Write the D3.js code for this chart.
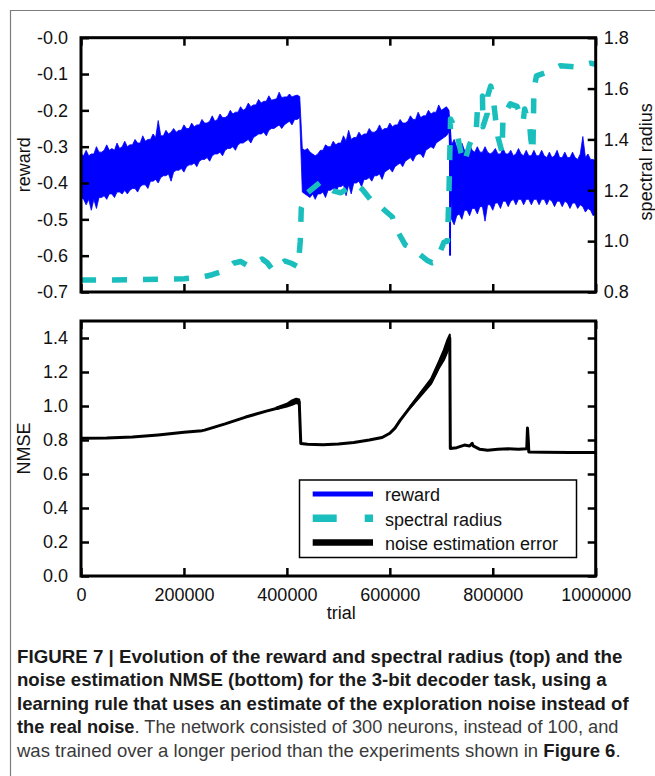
<!DOCTYPE html>
<html>
<head>
<meta charset="utf-8">
<script src="https://cdn.jsdelivr.net/npm/d3@7"></script>
<style>
  body { margin: 0; background: #fff; }
  svg { display: block; }
  text { font-family: "Liberation Sans", Arial, Helvetica, sans-serif; }
</style>
</head>
<body>
<svg id="fig" width="655" height="776"></svg>
<script>
// ---------- data ----------
// reward: envelope of the noisy trace, sampled every 5000 trials
const rewardStep = 5000;
const rewardHigh = [
  // 0 - 425000
  -0.32,-0.325,-0.31,-0.325,-0.32,-0.32,-0.30,-0.315,-0.315,-0.31,
  -0.295,-0.31,-0.305,-0.31,-0.29,-0.305,-0.30,-0.285,-0.30,-0.295,
  -0.295,-0.28,-0.29,-0.29,-0.27,-0.285,-0.28,-0.28,-0.265,-0.275,
  -0.228,-0.27,-0.27,-0.255,-0.265,-0.26,-0.25,-0.26,-0.255,-0.255,
  -0.24,-0.25,-0.25,-0.235,-0.245,-0.24,-0.24,-0.225,-0.235,-0.235,
  -0.23,-0.215,-0.23,-0.225,-0.21,-0.22,-0.22,-0.215,-0.20,-0.21,
  -0.205,-0.205,-0.19,-0.20,-0.195,-0.18,-0.19,-0.185,-0.185,-0.17,
  -0.18,-0.175,-0.175,-0.16,-0.172,-0.17,-0.168,-0.15,-0.165,-0.163,
  -0.163,-0.155,-0.163,-0.16,-0.158,-0.162,
  // 430000 - 715000
  -0.305,-0.31,-0.305,-0.315,-0.32,-0.325,-0.32,-0.31,-0.31,-0.295,
  -0.30,-0.30,-0.285,-0.295,-0.29,-0.29,-0.27,-0.285,-0.255,-0.28,
  -0.275,-0.275,-0.26,-0.27,-0.265,-0.265,-0.25,-0.26,-0.26,-0.255,
  -0.24,-0.255,-0.25,-0.25,-0.235,-0.245,-0.24,-0.24,-0.225,-0.235,
  -0.235,-0.23,-0.215,-0.225,-0.225,-0.205,-0.22,-0.215,-0.215,-0.20,
  -0.21,-0.205,-0.205,-0.185,-0.20,-0.195,-0.19,-0.20,
  // 720000 - 1000000
  -0.295,-0.28,-0.30,-0.305,-0.29,-0.31,-0.31,-0.295,-0.31,-0.315,
  -0.30,-0.315,-0.315,-0.30,-0.315,-0.32,-0.315,-0.305,-0.32,-0.32,
  -0.305,-0.32,-0.32,-0.31,-0.325,-0.32,-0.305,-0.32,-0.325,-0.31,
  -0.325,-0.325,-0.31,-0.325,-0.325,-0.31,-0.325,-0.33,-0.315,-0.33,
  -0.325,-0.31,-0.33,-0.33,-0.315,-0.33,-0.33,-0.315,-0.33,-0.335,
  -0.32,-0.272,-0.33,-0.32,-0.335,-0.335,-0.34
];
const rewardLow = [
  // 0 - 425000
  -0.44,-0.445,-0.46,-0.445,-0.475,-0.445,-0.47,-0.44,-0.44,-0.435,
  -0.445,-0.43,-0.43,-0.44,-0.425,-0.425,-0.43,-0.42,-0.43,-0.42,
  -0.415,-0.415,-0.425,-0.41,-0.405,-0.405,-0.415,-0.395,-0.395,-0.39,
  -0.40,-0.385,-0.38,-0.38,-0.375,-0.395,-0.37,-0.365,-0.365,-0.36,
  -0.37,-0.355,-0.35,-0.35,-0.345,-0.355,-0.34,-0.335,-0.335,-0.33,
  -0.34,-0.325,-0.32,-0.32,-0.315,-0.325,-0.31,-0.305,-0.305,-0.30,
  -0.31,-0.295,-0.29,-0.29,-0.285,-0.28,-0.29,-0.275,-0.27,-0.265,
  -0.265,-0.26,-0.27,-0.255,-0.25,-0.25,-0.245,-0.24,-0.25,-0.24,
  -0.235,-0.23,-0.24,-0.225,-0.225,-0.22,
  // 430000 - 715000
  -0.425,-0.43,-0.435,-0.44,-0.43,-0.445,-0.43,-0.43,-0.425,-0.44,
  -0.42,-0.42,-0.415,-0.425,-0.41,-0.41,-0.405,-0.435,-0.405,-0.43,
  -0.40,-0.40,-0.395,-0.41,-0.39,-0.39,-0.385,-0.395,-0.38,-0.38,
  -0.375,-0.39,-0.37,-0.365,-0.36,-0.37,-0.355,-0.35,-0.345,-0.355,
  -0.34,-0.335,-0.33,-0.34,-0.325,-0.32,-0.32,-0.33,-0.31,-0.305,
  -0.30,-0.305,-0.29,-0.285,-0.28,-0.275,-0.27,-0.26,
  // 720000 - 1000000
  -0.50,-0.515,-0.49,-0.485,-0.50,-0.475,-0.475,-0.49,-0.47,-0.47,
  -0.485,-0.465,-0.465,-0.505,-0.46,-0.46,-0.475,-0.455,-0.455,-0.47,
  -0.45,-0.45,-0.465,-0.45,-0.445,-0.46,-0.445,-0.445,-0.46,-0.445,
  -0.445,-0.46,-0.445,-0.445,-0.46,-0.445,-0.445,-0.46,-0.445,-0.45,
  -0.465,-0.45,-0.45,-0.465,-0.45,-0.455,-0.47,-0.455,-0.455,-0.47,
  -0.46,-0.465,-0.48,-0.47,-0.475,-0.49,-0.485
];
// isolated downward spike of the reward at the second reset
const rewardSpikeTrial = [717000];
const rewardSpikeLow = [-0.60];
const rewardSpikeHigh = [-0.25];

// spectral radius (right axis)
const radiusTrials = [
  0, 100000, 200000, 235000, 255000, 275000, 296000, 310000, 325000, 340000,
  352000, 362000, 373000, 385000, 396000, 410000, 422000, 426000, 428000, 440000,
  465000, 490000, 505000, 520000, 535000, 546000, 568000, 585000, 605000, 612000,
  630000, 645000, 672000, 682000, 690000, 705000, 712000, 715000, 718000, 730000,
  738000, 745000, 755000, 768000, 770000, 780000, 781000, 789000, 790000, 796000,
  800000, 806000, 810000, 818000, 820000, 834000, 847000, 859000, 862000, 872000,
  874000, 878000, 880000, 885000, 906000, 931000, 960000, 990000, 1000000
];
const radiusValues = [
  0.847, 0.848, 0.852, 0.858, 0.868, 0.882, 0.913, 0.92, 0.902, 0.915,
  0.93, 0.915, 0.885, 0.905, 0.922, 0.912, 0.898, 1.0, 1.13, 1.19,
  1.232, 1.198, 1.19, 1.21, 1.222, 1.205, 1.15, 1.13, 1.095, 1.05,
  0.985, 0.97, 0.925, 0.915, 0.92, 0.995, 1.0, 1.2, 1.48, 1.43,
  1.35, 1.31, 1.38, 1.44, 1.51, 1.57, 1.45, 1.50, 1.57, 1.61,
  1.58, 1.47, 1.41, 1.35, 1.49, 1.54, 1.53, 1.47, 1.52, 1.45,
  1.40, 1.35, 1.60, 1.65, 1.665, 1.69, 1.685, 1.70, 1.695
];

// noise estimation NMSE (bottom panel)
const nmseTrials = [
  0, 50000, 100000, 150000, 200000, 235000, 240000, 280000, 320000, 360000,
  385000, 400000, 410000, 418000, 424000, 427000, 440000, 470000, 500000, 530000,
  560000, 585000, 600000, 610000, 620000, 640000, 660000, 680000, 690000, 700000,
  710000, 715000, 716500, 717500, 730000, 745000, 755000, 760000, 762000, 775000,
  790000, 810000, 830000, 850000, 866000, 867500, 869000, 870000, 900000, 950000,
  1000000
];
const nmseValues = [
  0.81, 0.812, 0.818, 0.83, 0.845, 0.855, 0.858, 0.895, 0.935, 0.97,
  0.99, 1.005, 1.02, 1.03, 1.025, 0.78, 0.775, 0.772, 0.777, 0.785,
  0.80, 0.815, 0.84, 0.87, 0.915, 0.995, 1.07, 1.14, 1.20, 1.28,
  1.34, 1.39, 1.40, 0.75, 0.755, 0.77, 0.765, 0.78, 0.765, 0.745,
  0.74, 0.745, 0.748, 0.745, 0.748, 0.87, 0.80, 0.73, 0.728, 0.727,
  0.726
];
// spread of the NMSE trace where it gets noisy
const nmseBand1Trials = [380000, 400000, 410000, 418000, 424000];
const nmseBand1Low    = [0.982, 0.997, 1.007, 1.017, 1.012];
const nmseBand1High   = [0.992, 1.013, 1.033, 1.043, 1.038];
const nmseBand2Trials = [640000, 660000, 680000, 695000, 705000, 712000, 716500];
const nmseBand2Low    = [0.99, 1.06, 1.13, 1.22, 1.27, 1.32, 1.35];
const nmseBand2High   = [1.00, 1.08, 1.16, 1.26, 1.33, 1.39, 1.42];

// ticks
const trialTicks = [0, 200000, 400000, 600000, 800000, 1000000];
const trialLabels = ["0", "200000", "400000", "600000", "800000", "1000000"];
const rewardTicks = [-0.7, -0.6, -0.5, -0.4, -0.3, -0.2, -0.1, 0];
const rewardLabels = ["-0.7", "-0.6", "-0.5", "-0.4", "-0.3", "-0.2", "-0.1", "-0.0"];
const radiusTicks = [0.8, 1.0, 1.2, 1.4, 1.6, 1.8];
const radiusLabels = ["0.8", "1.0", "1.2", "1.4", "1.6", "1.8"];
const nmseTicks = [0, 0.2, 0.4, 0.6, 0.8, 1.0, 1.2, 1.4];
const nmseLabels = ["0.0", "0.2", "0.4", "0.6", "0.8", "1.0", "1.2", "1.4"];

const legendLabels = ["reward", "spectral radius", "noise estimation error"];

const captionLines = [
  [["FIGURE 7 | Evolution of the reward and spectral radius (top) and the", true]],
  [["noise estimation NMSE (bottom) for the 3-bit decoder task, using a", true]],
  [["learning rule that uses an estimate of the exploration noise instead of", true]],
  [["the real noise", true], [". The network consisted of 300 neurons, instead of 100, and", false]],
  [["was trained over a longer period than the experiments shown in ", false], ["Figure 6", true], [".", false]]
];

// ---------- layout ----------
const FONT = '"Liberation Sans", Arial, Helvetica, sans-serif';
const plotL = 81, plotR = 595.7;
const topPanel = { y0: 37.7, y1: 292 };
const botPanel = { y0: 321, y1: 576 };
const blue = "#0000ff", cyan = "#1abfbd";

const svg = d3.select("#fig");

// page frame (top and left rules)
svg.append("path")
  .attr("d", "M10.5,776 V10.5 H655")
  .attr("fill", "none").attr("stroke", "#7d7d7d").attr("stroke-width", 1.2);

const x = d3.scaleLinear().domain([0, 1000000]).range([plotL, plotR]);
const yReward = d3.scaleLinear().domain([-0.7, 0]).range([topPanel.y1, topPanel.y0]);
const yRadius = d3.scaleLinear().domain([0.8, 1.8]).range([topPanel.y1, topPanel.y0]);
const yNmse = d3.scaleLinear().domain([0, 1.5]).range([botPanel.y1, botPanel.y0]);

function styleAxis(g) {
  g.attr("font-size", 18).attr("font-family", FONT);
  g.select(".domain").remove();
  g.selectAll(".tick line").attr("stroke", "#000").attr("stroke-width", 2.5);
  g.selectAll(".tick text").attr("fill", "#111");
}

// ---------- top panel ----------
const topG = svg.append("g");

const rewardData = rewardHigh.map((h, i) => ({ t: i * rewardStep, hi: h, lo: rewardLow[i] }));
topG.append("path")
  .datum(rewardData)
  .attr("fill", blue)
  .attr("stroke", blue).attr("stroke-width", 0.8)
  .attr("d", d3.area().x(d => x(d.t)).y0(d => yReward(d.lo)).y1(d => yReward(d.hi)));

topG.selectAll("line.spike")
  .data(rewardSpikeTrial.map((t, i) => ({ t, lo: rewardSpikeLow[i], hi: rewardSpikeHigh[i] })))
  .join("line").attr("class", "spike")
  .attr("x1", d => x(d.t)).attr("x2", d => x(d.t))
  .attr("y1", d => yReward(d.lo)).attr("y2", d => yReward(d.hi))
  .attr("stroke", blue).attr("stroke-width", 2);

const radiusData = radiusTrials.map((t, i) => ({ t, v: radiusValues[i] }));
topG.append("path")
  .datum(radiusData)
  .attr("fill", "none")
  .attr("stroke", cyan).attr("stroke-width", 5.5)
  .attr("stroke-dasharray", "15,16")
  .attr("stroke-linejoin", "round")
  .attr("d", d3.line().x(d => x(d.t)).y(d => yRadius(d.v)));

topG.append("g").attr("transform", `translate(${plotL},0)`)
  .call(d3.axisLeft(yReward).tickValues(rewardTicks)
    .tickFormat((d, i) => rewardLabels[i]).tickSize(-8).tickPadding(13))
  .call(styleAxis);
topG.append("g").attr("transform", `translate(${plotR},0)`)
  .call(d3.axisRight(yRadius).tickValues(radiusTicks)
    .tickFormat((d, i) => radiusLabels[i]).tickSize(-8).tickPadding(8))
  .call(styleAxis);
topG.append("g").attr("transform", `translate(0,${topPanel.y1})`)
  .call(d3.axisBottom(x).tickValues(trialTicks).tickFormat("").tickSize(-8))
  .call(styleAxis);
topG.append("g").attr("transform", `translate(0,${topPanel.y0})`)
  .call(d3.axisTop(x).tickValues(trialTicks).tickFormat("").tickSize(-8))
  .call(styleAxis);

topG.append("rect")
  .attr("x", plotL).attr("y", topPanel.y0)
  .attr("width", plotR - plotL).attr("height", topPanel.y1 - topPanel.y0)
  .attr("fill", "none").attr("stroke", "#000").attr("stroke-width", 3);

topG.append("text")
  .attr("transform", `translate(30,${(topPanel.y0 + topPanel.y1) / 2}) rotate(-90)`)
  .attr("text-anchor", "middle").attr("font-size", 18).attr("fill", "#111")
  .text("reward");
topG.append("text")
  .attr("transform", `translate(652,${(topPanel.y0 + topPanel.y1) / 2 - 3}) rotate(-90)`)
  .attr("text-anchor", "middle").attr("font-size", 18).attr("fill", "#111")
  .text("spectral radius");

// ---------- bottom panel ----------
const botG = svg.append("g");

const bandArea = d3.area().x(d => x(d.t)).y0(d => yNmse(d.lo)).y1(d => yNmse(d.hi));
[[nmseBand1Trials, nmseBand1Low, nmseBand1High], [nmseBand2Trials, nmseBand2Low, nmseBand2High]]
  .forEach(([ts, lo, hi]) => {
    botG.append("path")
      .datum(ts.map((t, i) => ({ t, lo: lo[i], hi: hi[i] })))
      .attr("fill", "#000").attr("stroke", "#000").attr("stroke-width", 2)
      .attr("stroke-linejoin", "round")
      .attr("d", bandArea);
  });

const nmseData = nmseTrials.map((t, i) => ({ t, v: nmseValues[i] }));
botG.append("path")
  .datum(nmseData)
  .attr("fill", "none").attr("stroke", "#000").attr("stroke-width", 3)
  .attr("stroke-linejoin", "round")
  .attr("d", d3.line().x(d => x(d.t)).y(d => yNmse(d.v)));

botG.append("g").attr("transform", `translate(${plotL},0)`)
  .call(d3.axisLeft(yNmse).tickValues(nmseTicks)
    .tickFormat((d, i) => nmseLabels[i]).tickSize(-8).tickPadding(13))
  .call(styleAxis);
botG.append("g").attr("transform", `translate(${plotR},0)`)
  .call(d3.axisRight(yNmse).tickValues(nmseTicks).tickFormat("").tickSize(-8))
  .call(styleAxis);
botG.append("g").attr("transform", `translate(0,${botPanel.y1})`)
  .call(d3.axisBottom(x).tickValues(trialTicks)
    .tickFormat((d, i) => trialLabels[i]).tickSize(-8).tickPadding(12.5))
  .call(styleAxis);
botG.append("g").attr("transform", `translate(0,${botPanel.y0})`)
  .call(d3.axisTop(x).tickValues(trialTicks).tickFormat("").tickSize(-8))
  .call(styleAxis);

// legend
const legend = botG.append("g");
legend.append("rect")
  .attr("x", 299.5).attr("y", 480).attr("width", 277).attr("height", 77.5)
  .attr("fill", "#fff").attr("stroke", "#000").attr("stroke-width", 1.5);
const legendStyles = [
  { color: blue, width: 5, dash: null },
  { color: cyan, width: 7.5, dash: "24,28" },
  { color: "#000", width: 6.5, dash: null }
];
const legendRows = [494, 518.3, 542.6];
legendLabels.forEach((lab, i) => {
  const s = legendStyles[i];
  legend.append("line")
    .attr("x1", 312.7).attr("x2", 373).attr("y1", legendRows[i]).attr("y2", legendRows[i])
    .attr("stroke", s.color).attr("stroke-width", s.width)
    .attr("stroke-dasharray", s.dash);
  legend.append("text")
    .attr("x", 385).attr("y", legendRows[i] + 7.3)
    .attr("font-size", 18).attr("fill", "#111")
    .text(lab);
});

botG.append("rect")
  .attr("x", plotL).attr("y", botPanel.y0)
  .attr("width", plotR - plotL).attr("height", botPanel.y1 - botPanel.y0)
  .attr("fill", "none").attr("stroke", "#000").attr("stroke-width", 3);

botG.append("text")
  .attr("transform", `translate(30,${(botPanel.y0 + botPanel.y1) / 2}) rotate(-90)`)
  .attr("text-anchor", "middle").attr("font-size", 18).attr("fill", "#111")
  .text("NMSE");
botG.append("text")
  .attr("x", (plotL + plotR) / 2 + 3).attr("y", 619)
  .attr("text-anchor", "middle").attr("font-size", 18).attr("fill", "#111")
  .text("trial");

// ---------- caption ----------
const capX = 17;
const capBaselines = [663, 686.5, 710, 733.5, 757];
const capRight = [623, 607, 629, 619, 621];
captionLines.forEach((parts, i) => {
  const t = svg.append("text")
    .attr("x", capX).attr("y", capBaselines[i])
    .attr("font-size", 17.5);
  parts.forEach(([str, bold]) => {
    t.append("tspan")
      .attr("font-weight", bold ? "bold" : "normal")
      .attr("fill", bold ? "#1a1a1a" : "#3a3a3a")
      .text(str);
  });
  const w = t.node().getComputedTextLength();
  const sx = (capRight[i] - capX) / w;
  t.attr("transform", `translate(${capX},0) scale(${sx},1) translate(${-capX},0)`);
});
</script>
</body>
</html>
